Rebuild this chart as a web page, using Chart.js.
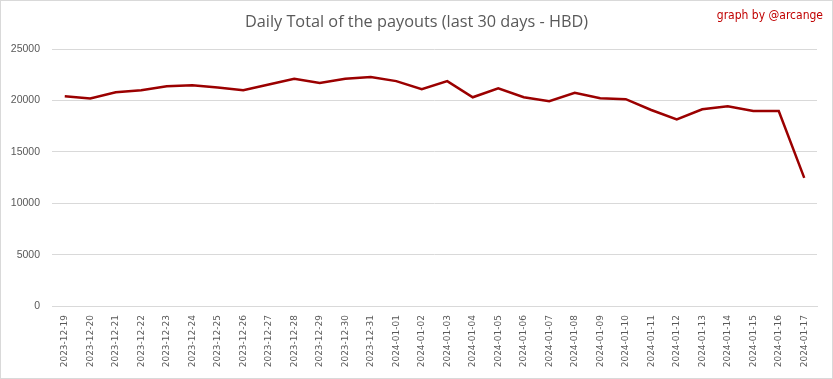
<!DOCTYPE html>
<html>
<head>
<meta charset="utf-8">
<script src="https://cdn.jsdelivr.net/npm/chart.js@4"></script>
<style>
html,body{margin:0;padding:0;background:#fff;}
#wrap{position:relative;width:833px;height:379px;box-sizing:border-box;border:1px solid #d9d9d9;}
canvas{display:block;}
</style>
</head>
<body>
<div id="wrap"><canvas id="c" width="831" height="377"></canvas></div>
<script>
const titleText = "Daily Total of the payouts (last 30 days - HBD)";
const creditText = "graph by @arcange";
const categories = ["2023-12-19","2023-12-20","2023-12-21","2023-12-22","2023-12-23","2023-12-24","2023-12-25","2023-12-26","2023-12-27","2023-12-28","2023-12-29","2023-12-30","2023-12-31","2024-01-01","2024-01-02","2024-01-03","2024-01-04","2024-01-05","2024-01-06","2024-01-07","2024-01-08","2024-01-09","2024-01-10","2024-01-11","2024-01-12","2024-01-13","2024-01-14","2024-01-15","2024-01-16","2024-01-17"];
const payoutsHBD = [20400,20200,20800,21000,21390,21480,21260,21000,21550,22100,21710,22100,22270,21880,21090,21880,20310,21190,20310,19920,20740,20210,20120,19070,18160,19140,19430,18980,18980,12470];
const yTicks = [0,5000,10000,15000,20000,25000];

const creditPlugin = {
  id: 'credit',
  afterDraw(chart) {
    const ctx = chart.ctx;
    ctx.save();
    ctx.font = '12px "Liberation Sans Narrow", "DejaVu Sans Condensed", sans-serif';
    ctx.fillStyle = '#c00000';
    ctx.textAlign = 'right';
    ctx.textBaseline = 'middle';
    ctx.fillText(creditText, 822, 15);
    ctx.restore();
  }
};

new Chart(document.getElementById('c'), {
  type: 'line',
  data: {
    labels: categories,
    datasets: [{
      data: payoutsHBD,
      borderColor: '#9b0000',
      borderWidth: 2.5,
      pointRadius: 0,
      tension: 0,
      fill: false
    }]
  },
  options: {
    responsive: false,
    animation: false,
    layout: { padding: 0 },
    plugins: {
      legend: { display: false },
      tooltip: { enabled: false },
      title: {
        display: true,
        text: titleText,
        color: '#595959',
        font: { family: '"Open Sans", sans-serif', size: 16.3, weight: 'normal', lineHeight: 1.2 },
        padding: { top: 12, bottom: 16.5 }
      }
    },
    scales: {
      x: {
        offset: true,
        grid: { display: false, drawTicks: false },
        border: { display: true, color: '#d9d9d9' },
        ticks: {
          autoSkip: false,
          minRotation: 90,
          maxRotation: 90,
          padding: 9,
          color: '#595959',
          font: { family: '"DejaVu Sans", sans-serif', size: 9 }
        },
        afterFit(scale) { scale.height = 72; }
      },
      y: {
        min: 0,
        max: 25000,
        afterBuildTicks(scale) { scale.ticks = yTicks.map(v => ({ value: v })); },
        grid: { color: '#d9d9d9', lineWidth: 1, drawTicks: false },
        border: { display: false },
        ticks: {
          padding: 12,
          color: '#595959',
          font: { family: '"Liberation Sans", sans-serif', size: 10.5 },
          callback: (v) => String(v)
        },
        afterFit(scale) { scale.width = 51; }
      },
      yRight: {
        type: 'linear',
        position: 'right',
        display: true,
        grid: { display: false, drawTicks: false },
        border: { display: false },
        ticks: { display: false },
        afterFit(scale) { scale.width = 15; }
      }
    }
  },
  plugins: [creditPlugin]
});
</script>
</body>
</html>
